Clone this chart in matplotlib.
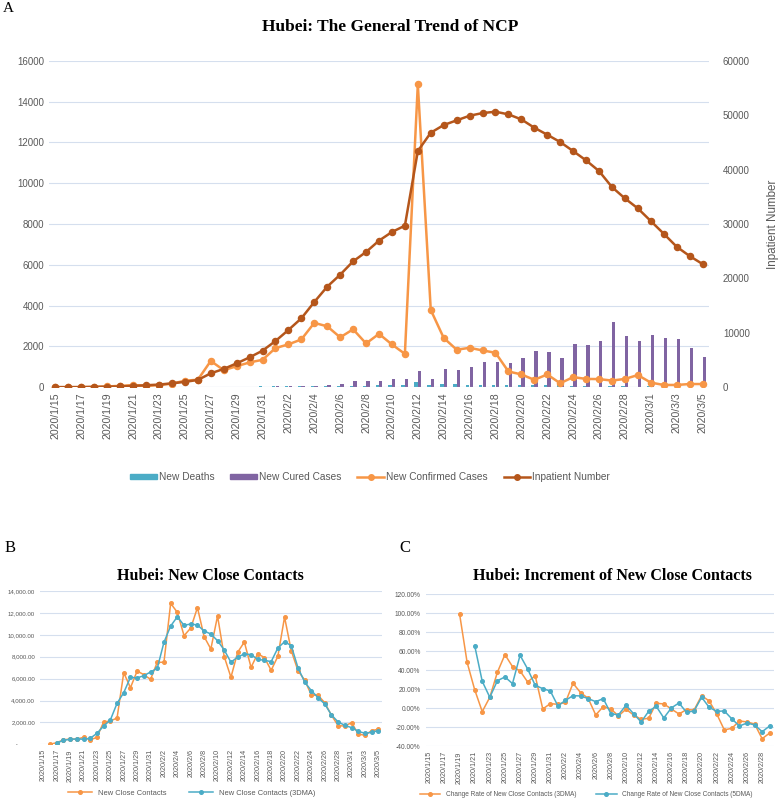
import numpy as np
import pandas as pd
import matplotlib
matplotlib.use('Agg')
import matplotlib.pyplot as plt
from matplotlib.ticker import FuncFormatter
from matplotlib.lines import Line2D
from matplotlib.patches import Patch

plt.rcParams['font.family'] = ['Liberation Sans', 'DejaVu Sans']

nan = np.nan

# ---- panel A data (2020/1/15 .. 2020/3/5) ----
dates_a = [f"{d.year}/{d.month}/{d.day}" for d in pd.date_range('2020-01-15', '2020-03-05')]

new_deaths = [1, 0, 0, 0, 1, 1, 3, 8, 8, 24, 13, 24, 24, 25, 37, 37, 42,
              45, 56, 64, 65, 70, 69, 81, 81, 91, 103, 94, 242, 116, 139, 139, 100,
              93, 132, 108, 115, 106, 96, 149, 68, 52, 26, 41, 45, 34,
              42, 31, 31, 38, 31]
new_cured = [0, 0, 0, 0, 0, 0, 0, 0, 3, 4, 3, 1, 4, 15, 19, 17, 24,
             40, 50, 70, 80, 100, 170, 300, 330, 330, 410, 420, 800, 420, 900, 850, 1010,
             1230, 1260, 1210, 1440, 1760, 1730, 1440, 2120, 2070, 2290, 3200, 2500, 2290,
             2560, 2420, 2380, 1910, 1490]
new_confirmed = [0, 0, 4, 17, 40, 72, 105, 69, 105, 180, 323, 371, 1291, 840, 1032, 1220, 1347,
                 1921, 2103, 2345, 3156, 2987, 2447, 2841, 2147, 2618, 2097, 1638, 14840, 3790,
                 2420, 1843, 1933, 1807, 1693, 775, 631, 366, 630, 196, 499, 411, 401, 330, 410, 600,
                 230, 115, 115, 160, 160]
inpatient = [40, 40, 45, 80, 120, 150, 270, 375, 500, 730, 1000, 1350, 2570, 3370, 4400, 5500, 6730,
             8500, 10530, 12670, 15670, 18490, 20690, 23140, 24860, 26940, 28530, 29690, 43400,
             46770, 48180, 49040, 49890, 50380, 50630, 50140, 49220, 47690, 46400, 45060, 43400,
             41690, 39730, 36790, 34710, 32870,
             30550, 28220, 25830, 24120, 22650]

# ---- panel B data (2020/1/15 .. 2020/3/5) ----
contacts = [nan, 0, 150, 400, 490, 460, 640, 400, 640, 2040, 2130, 2400, 6540, 5170, 6690, 6360, 5930,
            7490, 7490, 12870, 12050, 9920, 10620, 12480, 9830, 8700, 11720, 8000, 6120, 8400, 9340,
            7030, 8280, 7910, 6760, 8030, 11620, 8550, 6730, 5870, 4500, 4470, 3800, 2650, 1700, 1670,
            1980, 940, 820, 1250, 1370]
contacts_3dma = [nan, nan, 120, 365, 455, 490, 460, 550, 1000, 1670, 2220, 3740, 4720, 6120, 6060, 6270, 6600,
                 6940, 9310, 10800, 11650, 10860, 10990, 10890, 10350, 10070, 9460, 8610, 7490, 7970, 8250,
                 8190, 7760, 7670, 7550, 8790, 9370, 9010, 7000, 5690, 4900, 4260, 3680, 2680, 2040, 1730,
                 1520, 1190, 1000, 1100, 1250]

# ---- panel C data (2020/1/15 .. 2020/2/29), percent ----
dates_c = [f"{d.year}/{d.month}/{d.day}" for d in pd.date_range('2020-01-15', '2020-02-29')]
rate_3dma = [nan, nan, nan, nan,
             99.6, 48.4, 19.6, -3.5, 11.6, 37.9, 56.5, 43.9, 39.3, 27.7, 34.4, -0.7, 4.9,
             4.2, 6.3, 26.3, 16.5, 10.5, -7, 1.8, -0.7, -8, -1, -7, -11.6, -10.5, 5.3, 4.6,
             -0.7, -6, -1.4, -1.8, 13.3, 7.7, -6, -22.8, -21, -13.3, -14.4, -16.5, -32, -26]
rate_5dma = [nan, nan, nan, nan, nan, nan,
             66, 28.4, 11.6, 29, 33, 26, 55.8, 41.4, 24.2, 20.7, 18.2,
             2.5, 8.4, 13.3, 13, 10.2, 7, 10.2, -5.6, -7, 3.2, -5.6, -14.4, -3.2, 2.1, -10.2,
             0.4, 5.6, -4.2, -2.8, 11.6, 1.0, -3.2, -2.8, -11.2, -18.6, -15.5, -17.5, -24.6, -18.6]

teal = '#4bacc6'
purple = '#8064a2'
orange = '#f79646'
brown = '#b5561b'
grid_c = '#d5dfee'
tick_c = '#595959'
serif = ['Liberation Serif', 'DejaVu Serif']

fig = plt.figure(figsize=(7.78, 8.01), dpi=100)


def style(ax, fs_y, fs_x):
    for s in ax.spines.values():
        s.set_visible(False)
    ax.grid(axis='y', color=grid_c, lw=0.8)
    ax.set_axisbelow(True)
    ax.tick_params(axis='both', length=0, colors=tick_c)
    ax.tick_params(axis='y', labelsize=fs_y)
    ax.tick_params(axis='x', labelsize=fs_x)


# ---------------- A ----------------
ax1 = fig.add_axes([49 / 778, 1 - 387.3 / 801, 660 / 778, 326.6 / 801])
x = np.arange(len(dates_a))
ax1.bar(x - 0.14, new_deaths, width=0.26, color=teal, zorder=2)
ax1.bar(x + 0.14, new_cured, width=0.26, color=purple, zorder=2)
ax1.plot(x, new_confirmed, color=orange, lw=1.8, marker='o', ms=4.4, zorder=3)
ax1.set_ylim(0, 16000)
ax1.set_yticks(np.arange(0, 16001, 2000))
ax1.set_xlim(-0.5, len(dates_a) - 0.5)
ax1.set_xticks(x[::2])
ax1.set_xticklabels(dates_a[::2], rotation=90)
style(ax1, 7, 7.6)
ax1.axhline(0, color='#c9d3e3', lw=0.8)

ax2 = ax1.twinx()
ax2.plot(x, inpatient, color=brown, lw=1.8, marker='o', ms=4.4, zorder=3)
ax2.set_ylim(0, 60000)
ax2.set_yticks(np.arange(0, 60001, 10000))
for s in ax2.spines.values():
    s.set_visible(False)
ax2.tick_params(axis='y', length=0, colors=tick_c, labelsize=7, pad=10)
ax2.set_ylabel('Inpatient Number', color=tick_c, fontsize=8.4, labelpad=12)

handles = [Patch(color=teal), Patch(color=purple),
           Line2D([], [], color=orange, lw=1.8, marker='o', ms=4),
           Line2D([], [], color=brown, lw=1.8, marker='o', ms=4)]
fig.legend(handles, ['New Deaths', 'New Cured Cases', 'New Confirmed Cases', 'Inpatient Number'],
           loc='center', bbox_to_anchor=(370 / 778, 1 - 477 / 801), ncol=4, frameon=False,
           fontsize=7.3, handlelength=2.6, handleheight=0.5, handletextpad=0.2, columnspacing=1.6,
           labelcolor=tick_c)

fig.text(3 / 778, 1 - 9 / 801, 'A', family=serif, fontsize=11, va='center')
fig.text(390 / 778, 1 - 27 / 801, 'Hubei: The General Trend of NCP', family=serif,
         fontsize=12.5, weight='bold', ha='center', va='center')

# ---------------- B ----------------
axb = fig.add_axes([40 / 778, 1 - 744.3 / 801, 341.7 / 778, 153.3 / 801])
xb = np.arange(len(dates_a))
axb.plot(xb, contacts, color=orange, lw=1.1, marker='o', ms=2.6)
axb.plot(xb, contacts_3dma, color=teal, lw=1.1, marker='o', ms=2.6)
axb.set_ylim(0, 14000)
axb.set_yticks(np.arange(0, 14001, 2000))
axb.yaxis.set_major_formatter(FuncFormatter(lambda v, p: ' -          ' if v == 0 else f'{v:,.2f}'))
axb.set_xlim(-0.5, len(dates_a) - 0.5)
axb.set_xticks(xb[::2])
axb.set_xticklabels(dates_a[::2], rotation=90)
style(axb, 4.4, 5.2)
axb.legend(['New Close Contacts', 'New Close Contacts (3DMA)'], loc='center',
           bbox_to_anchor=(192 / 778, 1 - 793 / 801), bbox_transform=fig.transFigure, ncol=2,
           frameon=False, fontsize=5.4, handlelength=3.2, columnspacing=3, labelcolor=tick_c)
fig.text(10 / 778, 1 - 548 / 801, 'B', family=serif, fontsize=12, ha='center', va='center')
fig.text(210 / 778, 1 - 576 / 801, 'Hubei: New Close Contacts', family=serif,
         fontsize=11.5, weight='bold', ha='center', va='center')

# ---------------- C ----------------
axc = fig.add_axes([425.5 / 778, 1 - 746.3 / 801, 348 / 778, 152 / 801])
xc = np.arange(len(dates_c))
axc.plot(xc, rate_3dma, color=orange, lw=1.1, marker='o', ms=2.6)
axc.plot(xc, rate_5dma, color=teal, lw=1.1, marker='o', ms=2.6)
axc.set_ylim(-40, 120)
axc.set_yticks(np.arange(-40, 121, 20))
axc.yaxis.set_major_formatter(FuncFormatter(lambda v, p: f'{v:.2f}%'))
axc.set_xlim(-0.5, len(dates_c) - 0.5)
axc.set_xticks(xc[::2])
axc.set_xticklabels(dates_c[::2], rotation=90)
style(axc, 4.8, 5.2)
axc.legend(['Change Rate of New Close Contacts (3DMA)', 'Change Rate of New Close Contacts (5DMA)'],
           loc='center', bbox_to_anchor=(586 / 778, 1 - 795 / 801), bbox_transform=fig.transFigure,
           ncol=2, frameon=False, fontsize=4.7, handlelength=3.2, columnspacing=3, labelcolor=tick_c)
fig.text(405 / 778, 1 - 548 / 801, 'C', family=serif, fontsize=12, ha='center', va='center')
fig.text(612 / 778, 1 - 576 / 801, 'Hubei: Increment of New Close Contacts', family=serif,
         fontsize=11.5, weight='bold', ha='center', va='center')

fig.savefig('out.png', dpi=100)
